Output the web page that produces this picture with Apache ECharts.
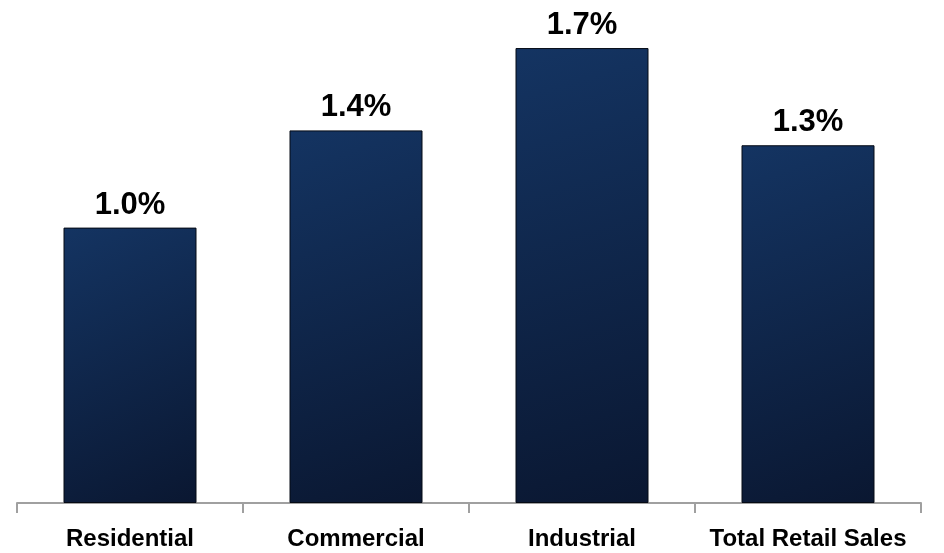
<!DOCTYPE html>
<html><head><meta charset="utf-8">
<script src="https://cdn.jsdelivr.net/npm/echarts@6/dist/echarts.min.js"></script>
<style>html,body{margin:0;padding:0;background:#fff}#c{width:944px;height:553px}</style>
</head><body><div id="c"></div>
<script>
const categories = ['Residential', 'Commercial', 'Industrial', 'Total Retail Sales'];
const values = [1.02, 1.38, 1.685, 1.325];
const valueLabels = ['1.0%', '1.4%', '1.7%', '1.3%'];
const FONT = "'Liberation Sans', Arial, sans-serif";
const chart = echarts.init(document.getElementById('c'));
chart.setOption({
  animation: false,
  grid: {left: 17, right: 23, top: 0, bottom: 50},
  xAxis: {
    type: 'category', data: categories,
    axisLine: {lineStyle: {color: '#a0a0a0', width: 2}},
    axisTick: {show: true, length: 10, lineStyle: {color: '#a0a0a0', width: 2}},
    axisLabel: {interval: 0, margin: 24, color: '#000', fontFamily: FONT, fontSize: 24, fontWeight: 'bold'}
  },
  yAxis: {type: 'value', min: 0, max: 1.863, show: false, splitLine: {show: false}},
  series: [{
    type: 'bar', data: values, barWidth: 133,
    itemStyle: {
      borderColor: '#050a14', borderWidth: 1,
      color: new echarts.graphic.LinearGradient(0, 0, 1, 1, [
        {offset: 0, color: '#143462'},
        {offset: 1, color: '#0a1731'}
      ])
    },
    label: {
      show: true, position: 'top', distance: 7, color: '#000',
      fontFamily: FONT, fontSize: 31, fontWeight: 'bold',
      formatter: p => valueLabels[p.dataIndex]
    }
  }]
});
</script></body></html>
